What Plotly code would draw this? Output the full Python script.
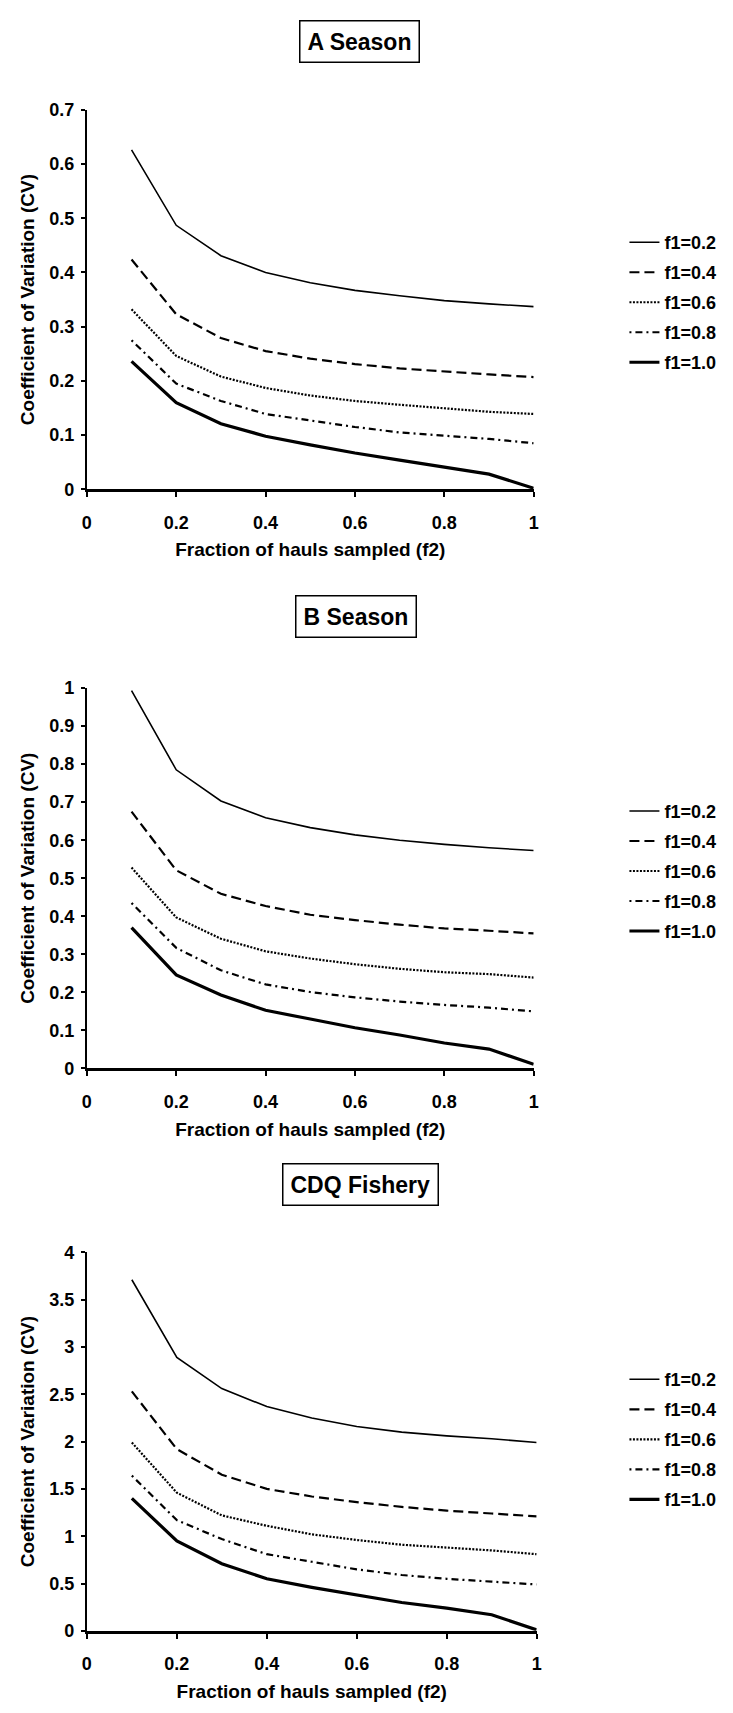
import plotly.graph_objects as go

# ---------------- data ----------------
f2 = [0.1, 0.2, 0.3, 0.4, 0.5, 0.6, 0.7, 0.8, 0.9, 1.0]
series_names = ["f1=0.2", "f1=0.4", "f1=0.6", "f1=0.8", "f1=1.0"]
panel_titles = ["A Season", "B Season", "CDQ Fishery"]

a_f1_02 = [0.626, 0.487, 0.431, 0.400, 0.381, 0.367, 0.357, 0.348, 0.342, 0.337]
a_f1_04 = [0.424, 0.323, 0.279, 0.255, 0.241, 0.231, 0.223, 0.217, 0.212, 0.207]
a_f1_06 = [0.332, 0.246, 0.208, 0.187, 0.173, 0.163, 0.156, 0.150, 0.143, 0.139]
a_f1_08 = [0.275, 0.195, 0.163, 0.139, 0.127, 0.115, 0.105, 0.099, 0.093, 0.085]
a_f1_10 = [0.236, 0.160, 0.121, 0.098, 0.082, 0.067, 0.054, 0.041, 0.028, 0.002]

b_f1_02 = [0.993, 0.785, 0.703, 0.659, 0.633, 0.614, 0.600, 0.589, 0.580, 0.573]
b_f1_04 = [0.675, 0.521, 0.459, 0.427, 0.404, 0.390, 0.378, 0.368, 0.362, 0.355]
b_f1_06 = [0.528, 0.397, 0.341, 0.308, 0.289, 0.274, 0.262, 0.253, 0.248, 0.239]
b_f1_08 = [0.435, 0.317, 0.258, 0.221, 0.201, 0.187, 0.176, 0.167, 0.160, 0.150]
b_f1_10 = [0.370, 0.246, 0.193, 0.153, 0.130, 0.107, 0.088, 0.067, 0.051, 0.011]

c_f1_02 = [3.71, 2.89, 2.56, 2.37, 2.25, 2.16, 2.10, 2.06, 2.03, 1.99]
c_f1_04 = [2.53, 1.92, 1.65, 1.50, 1.42, 1.36, 1.31, 1.27, 1.24, 1.21]
c_f1_06 = [1.99, 1.46, 1.22, 1.11, 1.02, 0.96, 0.91, 0.88, 0.85, 0.81]
c_f1_08 = [1.64, 1.17, 0.97, 0.81, 0.73, 0.65, 0.59, 0.55, 0.52, 0.49]
c_f1_10 = [1.40, 0.95, 0.71, 0.55, 0.46, 0.38, 0.30, 0.24, 0.17, 0.01]

panel_series = [
    [a_f1_02, a_f1_04, a_f1_06, a_f1_08, a_f1_10],
    [b_f1_02, b_f1_04, b_f1_06, b_f1_08, b_f1_10],
    [c_f1_02, c_f1_04, c_f1_06, c_f1_08, c_f1_10],
]
y_ranges = [[0, 0.7], [0, 1.0], [0, 4.0]]
y_dticks = [0.1, 0.1, 0.5]
x_tickvals = [0, 0.2, 0.4, 0.6, 0.8, 1]
x_ticktext = ["0", "0.2", "0.4", "0.6", "0.8", "1"]

# ---------------- styling ----------------
W, H = 733, 1713
FONT = "Liberation Sans, Arial, sans-serif"
line_styles = [
    dict(width=1.6, dash="solid"),
    dict(width=2.2, dash="10px,5px"),
    dict(width=2.2, dash="2px,1.5px"),
    dict(width=2.2, dash="2px,4px,7px,4px"),
    dict(width=3.2, dash="solid"),
]

def py(px):
    return 1 - px / H

# pixel layout of each panel: (x0, x1, y_top, y_bottom)
panels_px = [
    (83, 536, 101, 485),
    (83, 536, 686, 1071),
    (83, 539, 1257, 1640),
]
title_centers = [(359.5, 31.5), (355.5, 613.5), (360.5, 1188)]
legend_centers = [296, 871.5, 1446.5]

fig = go.Figure()
layout = dict(
    width=W, height=H,
    margin=dict(l=0, r=0, t=0, b=0),
    paper_bgcolor="white", plot_bgcolor="white",
    font=dict(family=FONT, size=18, color="black"),
    annotations=[],
)

for p in range(3):
    sfx = "" if p == 0 else str(p + 1)
    xa, ya = "x" + sfx, "y" + sfx
    leg = "legend" + sfx
    for s in range(5):
        fig.add_trace(go.Scatter(
            x=f2, y=panel_series[p][s], mode="lines",
            name=series_names[s], line=dict(color="black", **line_styles[s]),
            xaxis=xa, yaxis=ya, legend=leg, legendgroup=f"{p}_{s}",
            showlegend=True, hoverinfo="x+y+name",
        ))
    x0, x1, yt, yb = panels_px[p]
    layout["xaxis" + sfx] = dict(
        domain=[x0 / W, x1 / W], anchor=ya, range=[0, 1],
        tickvals=x_tickvals, ticktext=x_ticktext,
        showgrid=False, zeroline=False, showline=True, linecolor="black", linewidth=2.5,
        ticks="outside", ticklen=5, tickwidth=2, tickcolor="black",
        ticklabelstandoff=10,
        tickfont=dict(family=FONT, size=18, color="black", weight="bold"),
        title=dict(text="Fraction of hauls sampled (f2)", standoff=12,
                   font=dict(family=FONT, size=19, color="black", weight="bold")),
    )
    layout["yaxis" + sfx] = dict(
        domain=[py(yb), py(yt)], anchor=xa, range=y_ranges[p], dtick=y_dticks[p],
        showgrid=False, zeroline=False, showline=True, linecolor="black", linewidth=2,
        ticks="outside", ticklen=4, tickwidth=2, tickcolor="black",
        ticklabelstandoff=3,
        tickfont=dict(family=FONT, size=18, color="black", weight="bold"),
        title=dict(text="Coefficient of Variation (CV)", standoff=10,
                   font=dict(family=FONT, size=19, color="black", weight="bold")),
    )
    layout[leg] = dict(
        x=628 / W, xanchor="left", y=py(legend_centers[p]), yanchor="middle",
        bgcolor="rgba(0,0,0,0)", borderwidth=0,
        font=dict(family=FONT, size=18, color="black", weight="bold"),
        itemwidth=30, tracegroupgap=3.6, traceorder="grouped",
    )
    cx, cy = title_centers[p]
    layout["annotations"].append(dict(
        text=panel_titles[p], xref="paper", yref="paper",
        x=cx / W, y=py(cy), xanchor="center", yanchor="middle", showarrow=False,
        font=dict(family=FONT, size=23, color="black", weight="bold"),
        bordercolor="black", borderwidth=1.5, borderpad=7, bgcolor="white",
    ))

fig.update_layout(**layout)
fig.write_html("out.html")
